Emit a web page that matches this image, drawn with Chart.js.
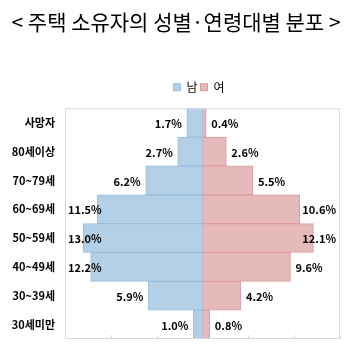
<!DOCTYPE html>
<html>
<head>
<meta charset="utf-8">
<script src="https://cdn.jsdelivr.net/npm/chart.js@4.4.1/dist/chart.umd.min.js"></script>
<style>
html,body{margin:0;padding:0;background:#fff;}
#wrap{width:357px;height:364px;}
</style>
</head>
<body>
<div id="wrap"><canvas id="c" width="357" height="364"></canvas></div>
<script>
const categories = ['사망자', '80세이상', '70~79세', '60~69세', '50~59세', '40~49세', '30~39세', '30세미만'];
const maleValues = [1.7, 2.7, 6.2, 11.5, 13.0, 12.2, 5.9, 1.0];
const femaleValues = [0.4, 2.6, 5.5, 10.6, 12.1, 9.6, 4.2, 0.8];
const seriesNames = ['남', '여'];
const titleText = '< 주택 소유자의 성별·연령대별 분포 >';

const FONT = '"Noto Sans CJK KR", "Noto Sans", sans-serif';

const frameAndLabels = {
  id: 'frameAndLabels',
  afterLayout(chart) {
    const lg = chart.legend;
    lg.left += 29; lg.right += 29;
    lg.top -= 5; lg.bottom -= 5;
    const tb = chart.titleBlock;
    tb.left += 6; tb.right += 6;
  },
  afterDatasetsDraw(chart) {
    const ctx = chart.ctx;
    const a = chart.chartArea;
    const xs = chart.scales.x;
    ctx.save();
    // plot frame
    ctx.strokeStyle = '#d9d9d9';
    ctx.lineWidth = 1;
    ctx.strokeRect(a.left + 0.5, a.top + 0.5, a.right - a.left - 1, a.bottom - a.top - 1);
    // inward tick marks on bottom
    xs.ticks.forEach(t => {
      const px = Math.round(xs.getPixelForValue(t.value)) + 0.5;
      ctx.beginPath();
      ctx.moveTo(px, a.bottom - 0.5);
      ctx.lineTo(px, a.bottom - 4);
      ctx.stroke();
    });
    // data labels
    ctx.font = 'bold 11px ' + FONT;
    ctx.fillStyle = '#000';
    ctx.textBaseline = 'middle';
    ctx.textAlign = 'left';
    chart.data.datasets.forEach((ds, di) => {
      const meta = chart.getDatasetMeta(di);
      meta.data.forEach((bar, i) => {
        const v = ds.data[i];
        const txt = Math.abs(v).toFixed(1) + '%';
        const w = ctx.measureText(txt).width;
        let x;
        if (v < 0) {
          x = Math.max(bar.x - 5 - w, a.left + 3);
        } else {
          x = Math.min(bar.x + 5, a.right - 4 - w);
        }
        ctx.fillText(txt, x, bar.y + 1);
      });
    });
    ctx.restore();
  }
};

new Chart(document.getElementById('c'), {
  type: 'bar',
  data: {
    labels: categories,
    datasets: [
      {
        label: seriesNames[0],
        data: maleValues.map(v => -v),
        backgroundColor: '#b4d0e6',
        borderColor: '#97bedc',
        borderWidth: 1,
        borderSkipped: false,
        barPercentage: 1,
        categoryPercentage: 1
      },
      {
        label: seriesNames[1],
        data: femaleValues,
        backgroundColor: '#e6b9ba',
        borderColor: '#dc9ca1',
        borderWidth: 1,
        borderSkipped: false,
        barPercentage: 1,
        categoryPercentage: 1
      }
    ]
  },
  options: {
    indexAxis: 'y',
    responsive: false,
    animation: false,
    layout: { padding: { left: 0, right: 17, top: 0, bottom: 25 } },
    scales: {
      x: {
        stacked: true,
        min: -15, max: 15,
        ticks: { display: false, stepSize: 5 },
        grid: { display: false, drawTicks: false },
        border: { display: false }
      },
      y: {
        stacked: true,
        grid: { display: false, drawTicks: false },
        border: { display: false },
        ticks: { color: '#000', padding: 10, font: { family: FONT, size: 11, weight: 'bold' } },
        afterFit(scale) { scale.width = 65; }
      }
    },
    plugins: {
      title: {
        display: true,
        text: titleText,
        color: '#000',
        font: { family: FONT, size: 21, weight: 'normal' },
        padding: { top: 9, bottom: 49 }
      },
      legend: {
        display: true,
        position: 'top',
        labels: {
          boxWidth: 7, boxHeight: 7, padding: 3,
          color: '#000',
          font: { family: FONT, size: 12 }
        }
      },
      tooltip: { enabled: false }
    }
  },
  plugins: [frameAndLabels]
});
</script>
</body>
</html>
